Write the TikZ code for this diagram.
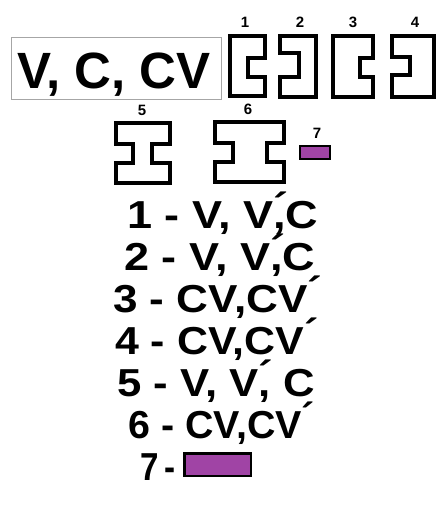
\documentclass[tikz,border=0pt]{standalone}
\usepackage{fontspec}
\setmainfont{Liberation Sans}
\usetikzlibrary{positioning}
\definecolor{plum}{RGB}{160,68,165}
\newcommand{\acc}{\rlap{\raisebox{.18em}{´}}}

\begin{document}
\begin{tikzpicture}[x=1pt, y=-1pt]
    \useasboundingbox (0,0) rectangle (437,508);
    \tikzset{piece/.style={line width=3.2pt, line join=miter},
        num/.style={font=\bfseries\fontsize{15}{15}\selectfont, inner sep=0pt},
        row/.style={anchor=base west, inner sep=0pt,
            font=\bfseries\fontsize{39}{39}\selectfont}}

    % title
    \node[draw=gray!70, line width=0.8pt, minimum width=210, minimum height=62, inner sep=0pt] (title) at (116,68) {};
    \node[anchor=base, inner sep=0pt, font=\bfseries\fontsize{51}{51}\selectfont] (titletext) at (114,89) {V, C, CV};

    % pieces 1-4
    \draw[piece] (230,36) -- (265,36) -- (265,58) -- (248,58) -- (248,77) -- (265,77) -- (265,96) -- (230,96) -- cycle;
    \draw[piece] (280,36) -- (316,36) -- (316,97) -- (280,97) -- (280,77) -- (299,77) -- (299,53) -- (280,53) -- cycle;
    \draw[piece] (333,36) -- (373,36) -- (373,58) -- (360,58) -- (360,77) -- (373,77) -- (373,97) -- (333,97) -- cycle;
    \draw[piece] (392,36) -- (434,36) -- (434,97) -- (392,97) -- (392,75) -- (410,75) -- (410,57) -- (392,57) -- cycle;

    % pieces 5-7
    \draw[piece] (116,123) -- (170,123) -- (170,144) -- (152,144) -- (152,163) -- (170,163) -- (170,183)
        -- (116,183) -- (116,163) -- (133,163) -- (133,144) -- (116,144) -- cycle;
    \draw[piece] (215,122) -- (284,122) -- (284,143) -- (267,143) -- (267,162) -- (284,162) -- (284,182)
        -- (215,182) -- (215,162) -- (233,162) -- (233,143) -- (215,143) -- cycle;
    \node[draw, fill=plum, line width=2.4pt, minimum width=30, minimum height=13, inner sep=0pt] (piece7) at (315,152.5) {};

    \node[num] (n1) at (245,22) {1};
    \node[num] (n2) at (300,22) {2};
    \node[num] (n3) at (353,22) {3};
    \node[num] (n4) at (415,22) {4};
    \node[num] (n5) at (142,110) {5};
    \node[num] (n6) at (248,109) {6};
    \node[num] (n7) at (317,133) {7};

    % key
    \node[row, xscale=1.155] (r1) at (127,228) {1 - V, V\acc,C};
    \node[row, xscale=1.155] (r2) at (124,270) {2 - V, V\acc,C};
    \node[row, xscale=1.13] (r3) at (113,312) {3 - CV,CV\acc};
    \node[row, xscale=1.1] (r4) at (115,354) {4 - CV,CV\acc};
    \node[row, xscale=1.12] (r5) at (117,396) {5 - V, V\acc, C};
    \node[row, xscale=1.01] (r6) at (128,438) {6 - CV,CV\acc};
    \node[row, xscale=0.85] (r7) at (140,480) {7\,-};
    \node[draw, fill=plum, line width=2.5pt, minimum width=66.5, minimum height=22.5, inner sep=0pt] (key7) at (217.5,464.5) {};
\end{tikzpicture}
\end{document}
